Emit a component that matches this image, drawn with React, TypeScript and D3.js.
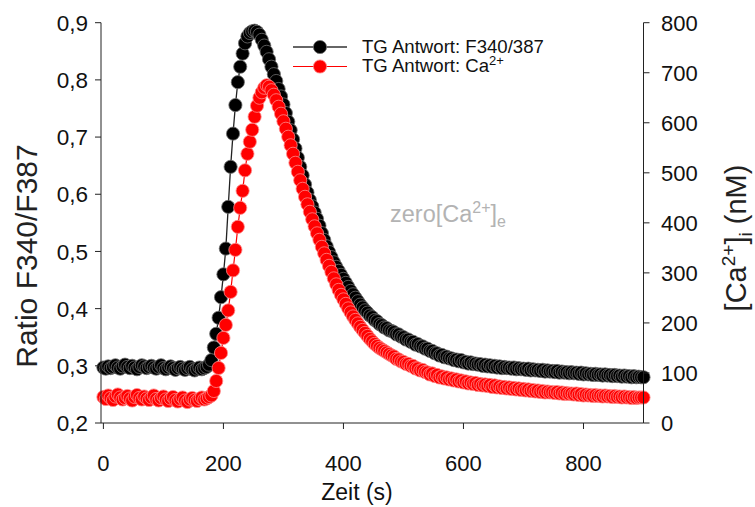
import React from 'react';
import * as d3 from 'd3';

const TIME_STEP = 4; // seconds between samples, first sample at t = 0

// Ratio F340/F387 (black series), one value every 4 s
const ratioF340F387: number[] = [
  0.297,0.295,0.299,0.296,0.298,0.301,0.297,0.295,0.299,0.302,
  0.298,0.296,0.300,0.297,0.294,0.298,0.301,0.299,0.296,0.298,
  0.300,0.297,0.295,0.298,0.301,0.296,0.294,0.297,0.299,0.296,
  0.293,0.296,0.298,0.295,0.293,0.296,0.298,0.294,0.292,0.295,
  0.297,0.294,0.296,0.298,0.302,0.310,0.332,0.356,0.384,0.420,
  0.460,0.505,0.578,0.648,0.706,0.756,0.796,0.823,0.846,0.864,
  0.876,0.882,0.885,0.886,0.884,0.879,0.870,0.860,0.849,0.836,
  0.823,0.810,0.798,0.784,0.771,0.757,0.742,0.727,0.712,0.696,
  0.680,0.664,0.648,0.633,0.617,0.603,0.590,0.579,0.568,0.557,
  0.545,0.532,0.520,0.509,0.499,0.490,0.481,0.473,0.466,0.459,
  0.452,0.445,0.438,0.431,0.425,0.419,0.413,0.407,0.402,0.397,
  0.393,0.388,0.385,0.380,0.378,0.373,0.371,0.367,0.366,0.362,
  0.361,0.359,0.355,0.355,0.351,0.350,0.346,0.346,0.342,0.342,
  0.337,0.338,0.334,0.334,0.330,0.330,0.326,0.326,0.322,0.322,
  0.318,0.319,0.315,0.316,0.313,0.313,0.310,0.311,0.308,0.310,
  0.306,0.307,0.304,0.306,0.303,0.304,0.302,0.303,0.300,0.302,
  0.299,0.301,0.298,0.300,0.297,0.299,0.296,0.298,0.296,0.297,
  0.295,0.297,0.294,0.296,0.294,0.295,0.293,0.295,0.292,0.294,
  0.292,0.293,0.291,0.293,0.290,0.292,0.290,0.291,0.289,0.291,
  0.288,0.290,0.288,0.289,0.287,0.289,0.287,0.288,0.286,0.288,
  0.285,0.287,0.285,0.286,0.284,0.286,0.284,0.285,0.283,0.285,
  0.283,0.284,0.282,0.284,0.282,0.283,0.281,0.283,0.281,0.282,
  0.280,0.282,0.280,0.281,0.280,0.280,
];

// [Ca2+]i in nM (red series), one value every 4 s
const calciumNM: number[] = [
  52,48,55,50,46,53,57,51,47,50,
  54,49,45,52,56,50,47,53,49,46,
  51,55,48,45,50,53,47,44,49,52,
  46,43,48,51,45,42,47,50,46,44,
  48,51,47,49,52,55,64,84,110,140,
  170,196,225,262,305,346,392,430,464,505,
  538,562,586,612,634,650,661,670,675,672,
  665,656,645,632,618,603,588,572,555,538,
  520,502,485,468,452,437,422,407,393,379,
  366,352,339,326,314,302,289,277,266,256,
  247,238,229,221,213,206,199,192,186,180,
  174,168,163,158,154,150,147,144,141,138,
  135,133,128,127,123,122,118,118,114,114,
  109,109,105,106,102,101,97,99,94,96,
  91,93,89,91,87,89,85,87,83,85,
  81,83,79,81,78,80,76,78,75,77,
  74,76,72,75,71,73,70,72,69,71,
  68,70,67,69,66,68,65,67,64,66,
  63,65,62,64,61,63,61,62,60,62,
  59,61,58,60,58,59,57,59,56,58,
  55,57,55,56,54,56,54,55,53,55,
  53,54,52,54,52,53,51,53,51,52,
  50,52,50,51,51,51,
];

const timeTicks = [0, 200, 400, 600, 800];
const ratioTicks = [0.2, 0.3, 0.4, 0.5, 0.6, 0.7, 0.8, 0.9];
const ratioTickLabels = ['0,2', '0,3', '0,4', '0,5', '0,6', '0,7', '0,8', '0,9'];
const calciumTicks = [0, 100, 200, 300, 400, 500, 600, 700, 800];

const FONT = '"Liberation Sans", Arial, Helvetica, sans-serif';

export default function App() {
  const x = d3.scaleLinear().domain([-4, 900]).range([101, 643.5]);
  const yL = d3.scaleLinear().domain([0.2, 0.9]).range([423, 22.7]);
  const yR = d3.scaleLinear().domain([0, 800]).range([423, 22.7]);

  const tB = ratioF340F387.map((_, i) => i * TIME_STEP);
  const tR = calciumNM.map((_, i) => i * TIME_STEP);

  const lineB = d3.line<number>().x((_, i) => x(tB[i])).y((d) => yL(d));
  const lineR = d3.line<number>().x((_, i) => x(tR[i])).y((d) => yR(d));

  const x0 = x.range()[0];
  const x1 = x.range()[1];
  const yTop = yL.range()[1];
  const yBot = yL.range()[0];
  const R = 6.6;

  return (
    <svg
      width={755}
      height={507}
      style={{ position: 'absolute', left: 0, top: 0, background: '#fff' }}
      fontFamily={FONT}
    >
      <rect x={0} y={0} width={755} height={507} fill="#fff" />

      {/* Black series */}
      <path d={lineB(ratioF340F387) || ''} fill="none" stroke="#222" strokeWidth={1.3} />
      {ratioF340F387.map((d, i) => (
        <circle key={'b' + i} cx={x(tB[i])} cy={yL(d)} r={R} fill="#000" stroke="#707070" strokeWidth={0.8} />
      ))}

      {/* Red series */}
      <path d={lineR(calciumNM) || ''} fill="none" stroke="#ff0000" strokeWidth={1.2} />
      {calciumNM.map((d, i) => (
        <circle key={'r' + i} cx={x(tR[i])} cy={yR(d)} r={R} fill="#ff0000" stroke="#ff8a8a" strokeWidth={0.8} />
      ))}

      {/* Left axis */}
      <line x1={x0} x2={x0} y1={yTop} y2={yBot} stroke="#222" strokeWidth={1} />
      {ratioTicks.map((v, i) => (
        <g key={'lt' + i}>
          <line x1={x0 - 6} x2={x0} y1={yL(v)} y2={yL(v)} stroke="#222" strokeWidth={1} />
          <text x={88} y={yL(v)} dy="0.36em" textAnchor="end" fontSize={22.5} fill="#111">
            {ratioTickLabels[i]}
          </text>
        </g>
      ))}

      {/* Right axis */}
      <line x1={x1} x2={x1} y1={yTop} y2={yBot} stroke="#222" strokeWidth={1} />
      {calciumTicks.map((v, i) => (
        <g key={'rt' + i}>
          <line x1={x1} x2={x1 + 6} y1={yR(v)} y2={yR(v)} stroke="#222" strokeWidth={1} />
          <text x={661} y={yR(v)} dy="0.36em" textAnchor="start" fontSize={22} fill="#111">
            {v}
          </text>
        </g>
      ))}

      {/* Bottom axis */}
      <line x1={x0} x2={x1} y1={yBot} y2={yBot} stroke="#222" strokeWidth={1} />
      {timeTicks.map((v, i) => (
        <g key={'bt' + i}>
          <line x1={x(v)} x2={x(v)} y1={yBot} y2={yBot + 6} stroke="#222" strokeWidth={1} />
          <text x={x(v)} y={471} textAnchor="middle" fontSize={22} fill="#111">
            {v}
          </text>
        </g>
      ))}

      {/* Axis titles */}
      <text x={357} y={500} textAnchor="middle" fontSize={23} fill="#111">Zeit (s)</text>
      <text transform="translate(37,256) rotate(-90)" textAnchor="middle" fontSize={30} fill="#222">
        Ratio F340/F387
      </text>
      <text transform="translate(746,238) rotate(-90)" textAnchor="middle" fontSize={29} fill="#222">
        [Ca<tspan dy={-11} fontSize={19}>2+</tspan><tspan dy={11}>]</tspan>
        <tspan dy={6} fontSize={19}>i</tspan><tspan dy={-6}> (nM)</tspan>
      </text>

      {/* Annotation */}
      <text x={390} y={222} fontSize={23.5} fill="#b3b3b3">
        zero[Ca<tspan dy={-9} fontSize={16}>2+</tspan><tspan dy={9}>]</tspan>
        <tspan dy={5} fontSize={16}>e</tspan>
      </text>

      {/* Legend */}
      <line x1={293} x2={347} y1={47} y2={47} stroke="#333" strokeWidth={1.3} />
      <circle cx={320} cy={47} r={R} fill="#000" stroke="#707070" strokeWidth={0.8} />
      <text x={362} y={53} fontSize={18.6} fill="#111">TG Antwort: F340/387</text>
      <line x1={293} x2={347} y1={66.5} y2={66.5} stroke="#ff0000" strokeWidth={1.2} />
      <circle cx={320} cy={66.5} r={R} fill="#ff0000" stroke="#ff8a8a" strokeWidth={0.8} />
      <text x={362} y={72} fontSize={18.6} fill="#111">
        TG Antwort: Ca<tspan dy={-7} fontSize={13}>2+</tspan>
      </text>
    </svg>
  );
}
